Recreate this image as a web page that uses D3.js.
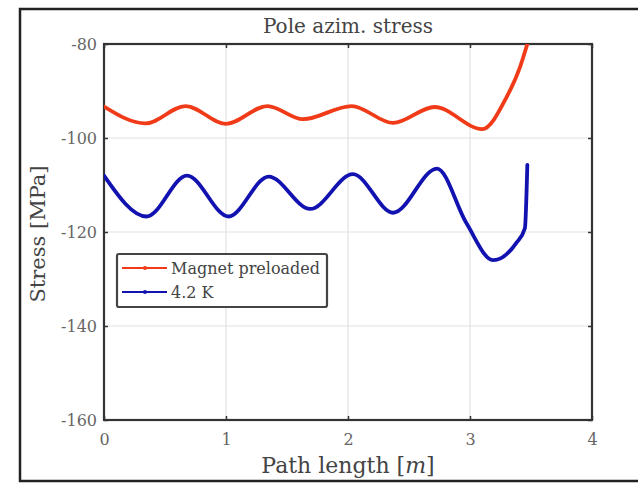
<!DOCTYPE html>
<html>
<head>
<meta charset="utf-8">
<script src="https://cdn.jsdelivr.net/npm/d3@7"></script>
<style>
  body { margin: 0; background: #fff; }
  svg { display: block; font-family: "DejaVu Serif", "Liberation Serif", serif; }
</style>
</head>
<body>
<svg id="chart" width="638" height="484"></svg>
<script>
// values
var xTicks = [0, 1, 2, 3, 4]
var yTicks = [-80, -100, -120, -140, -160]
var seriesNames = ['Magnet preloaded', '4.2 K']
var seriesColors = ['#f03a18', '#1212b0']

var preloadX = [0, 0.34, 0.67, 1.0, 1.34, 1.63, 2.03, 2.37, 2.71, 3.10, 3.30, 3.41, 3.47]
var preloadY = [-93.3, -96.9, -93.2, -97.0, -93.2, -96.0, -93.2, -96.8, -93.4, -98.1, -91.3, -84.9, -80]

var coldX = [0, 0.35, 0.68, 1.02, 1.35, 1.69, 2.04, 2.37, 2.73, 2.97, 3.19, 3.38, 3.45, 3.47]
var coldY = [-108.0, -116.7, -108.0, -116.7, -108.2, -115.1, -107.7, -115.9, -106.5, -118.1, -126.0, -122.3, -119.2, -105.7]

var svg = d3.select('#chart')
var plotL = 104, plotR = 592, plotT = 44, plotB = 420

// outer frame of the figure
svg.append('rect')
    .attr('x', 20).attr('y', 9)
    .attr('width', 640).attr('height', 472)
    .attr('fill', 'white')
    .attr('stroke', '#222')
    .attr('stroke-width', 2.5)

var x = d3.scaleLinear().domain([0, 4]).range([plotL, plotR])
var y = d3.scaleLinear().domain([-160, -80]).range([plotB, plotT])

// grid
var grid = svg.append('g').attr('stroke', '#e2e2e2').attr('stroke-width', 1.2)
grid.selectAll('.gx').data(xTicks.slice(1, -1)).enter().append('line')
    .attr('x1', d => x(d)).attr('x2', d => x(d))
    .attr('y1', plotT).attr('y2', plotB)
grid.selectAll('.gy').data(yTicks.slice(1, -1)).enter().append('line')
    .attr('y1', d => y(d)).attr('y2', d => y(d))
    .attr('x1', plotL).attr('x2', plotR)

// axes with inner ticks
var tickFmt = d => String(d)
svg.append('g').attr('transform', 'translate(0,' + plotB + ')')
    .call(d3.axisBottom(x).tickValues(xTicks).tickSize(-4).tickPadding(14).tickFormat(tickFmt))
svg.append('g').attr('transform', 'translate(0,' + plotT + ')')
    .call(d3.axisTop(x).tickValues(xTicks).tickSize(-4).tickFormat(''))
svg.append('g').attr('transform', 'translate(' + plotL + ',0)')
    .call(d3.axisLeft(y).tickValues(yTicks).tickSize(-4).tickPadding(7).tickFormat(tickFmt))
svg.append('g').attr('transform', 'translate(' + plotR + ',0)')
    .call(d3.axisRight(y).tickValues(yTicks).tickSize(-4).tickFormat(''))

svg.selectAll('.domain').remove()
svg.selectAll('.tick line').attr('stroke', '#333').attr('stroke-width', 1.5)
svg.selectAll('.tick text')
    .attr('fill', '#666')
    .style('font-size', '16px')
    .style('font-family', '"DejaVu Serif", serif')

svg.append('rect')
    .attr('x', plotL).attr('y', plotT)
    .attr('width', plotR - plotL).attr('height', plotB - plotT)
    .attr('fill', 'none')
    .attr('stroke', '#333')
    .attr('stroke-width', 2.2)

// curves
svg.append('clipPath').attr('id', 'plotclip').append('rect')
    .attr('x', plotL).attr('y', plotT).attr('width', plotR - plotL).attr('height', plotB - plotT)

var line = d3.line()
    .x(d => x(d[0]))
    .y(d => y(d[1]))
    .curve(d3.curveMonotoneX)

var series = [
    d3.zip(preloadX, preloadY),
    d3.zip(coldX, coldY)
]

svg.append('g').attr('clip-path', 'url(#plotclip)')
    .selectAll('path')
    .data(series)
    .enter()
    .append('path')
    .attr('d', line)
    .attr('fill', 'none')
    .attr('stroke', (d, i) => seriesColors[i])
    .attr('stroke-width', 3.8)
    .attr('stroke-linejoin', 'round')
    .attr('stroke-linecap', 'round')

// title and labels
svg.append('text')
    .attr('x', (plotL + plotR) / 2).attr('y', 33)
    .attr('text-anchor', 'middle')
    .attr('fill', '#444')
    .style('font-size', '20px')
    .text('Pole azim. stress')

var xl = svg.append('text')
    .attr('x', (plotL + plotR) / 2).attr('y', 473)
    .attr('text-anchor', 'middle')
    .attr('fill', '#444')
    .style('font-size', '22px')
xl.append('tspan').text('Path length [')
xl.append('tspan').style('font-style', 'italic').text('m')
xl.append('tspan').text(']')

svg.append('text')
    .attr('transform', 'translate(45,' + ((plotT + plotB) / 2 + 2) + ') rotate(-90)')
    .attr('text-anchor', 'middle')
    .attr('fill', '#444')
    .style('font-size', '21px')
    .text('Stress [MPa]')

// legend
var legend = svg.append('g').attr('transform', 'translate(117,254)')
legend.append('rect')
    .attr('width', 210).attr('height', 53)
    .attr('rx', 2)
    .attr('fill', 'white')
    .attr('stroke', '#444')
    .attr('stroke-width', 2.2)
var items = legend.selectAll('.item')
    .data(seriesNames)
    .enter()
    .append('g')
    .attr('transform', (d, i) => 'translate(0,' + (14 + i * 24) + ')')
items.append('line')
    .attr('x1', 5).attr('x2', 50)
    .attr('stroke', (d, i) => seriesColors[i])
    .attr('stroke-width', 2)
items.append('circle')
    .attr('cx', 28).attr('r', 2)
    .attr('fill', (d, i) => seriesColors[i])
items.append('text')
    .attr('x', 54).attr('dy', '0.35em')
    .attr('fill', '#444')
    .style('font-size', '16px')
    .text(d => d)
</script>
</body>
</html>
